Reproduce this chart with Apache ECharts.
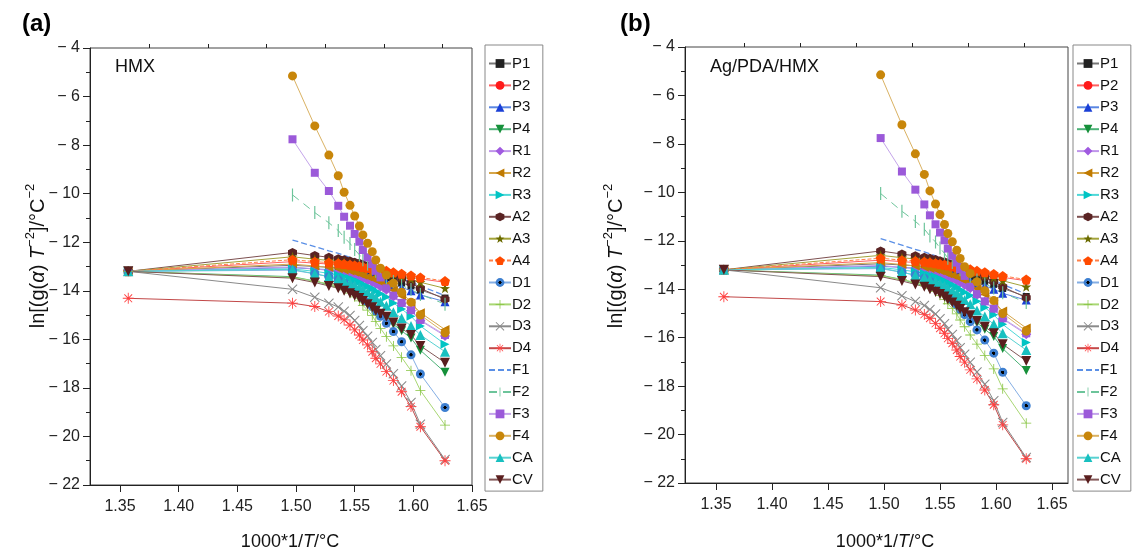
<!DOCTYPE html>
<html>
<head>
<meta charset="utf-8">
<script src="https://cdn.jsdelivr.net/npm/echarts@6.0.0/dist/echarts.min.js"></script>
<style>
html, body {margin: 0; padding: 0; background: #fff;}
#chart {width: 1135px; height: 554px;}
</style>
</head>
<body>
<div id="chart"></div>
<script>
// 1000*1/T, shared by every kinetic model
var xValues = [1.357, 1.497, 1.516, 1.528, 1.536, 1.541, 1.546, 1.550, 1.554, 1.557, 1.561, 1.565, 1.568, 1.572, 1.577, 1.583, 1.590, 1.598, 1.606, 1.627];

// ln[g(a)/T^2] for each model
var P1 = [-13.2, -12.95, -13.0, -13.03, -13.06, -13.09, -13.12, -13.15, -13.18, -13.22, -13.26, -13.3, -13.35, -13.4, -13.47, -13.56, -13.67, -13.8, -13.97, -14.3];
var P2 = [-13.2, -12.8, -12.86, -12.9, -12.93, -12.96, -12.99, -13.02, -13.05, -13.08, -13.11, -13.14, -13.17, -13.21, -13.25, -13.3, -13.36, -13.43, -13.51, -13.65];
var P3 = [-13.2, -13.05, -13.1, -13.13, -13.16, -13.2, -13.24, -13.28, -13.32, -13.36, -13.41, -13.46, -13.52, -13.58, -13.65, -13.75, -13.86, -14.0, -14.17, -14.45];
var P4 = [-13.2, -13.42, -13.6, -13.75, -13.86, -13.96, -14.06, -14.17, -14.28, -14.4, -14.53, -14.67, -14.82, -14.97, -15.12, -15.38, -15.65, -15.95, -16.45, -17.36];
var R1 = [-13.2, -13.02, -13.1, -13.16, -13.22, -13.28, -13.34, -13.4, -13.46, -13.52, -13.58, -13.65, -13.72, -13.83, -13.96, -14.24, -14.52, -14.82, -15.23, -15.86];
var R2 = [-13.2, -12.9, -12.98, -13.04, -13.09, -13.14, -13.19, -13.24, -13.3, -13.36, -13.42, -13.49, -13.56, -13.65, -13.76, -13.98, -14.22, -14.5, -14.9, -15.6];
var R3 = [-13.2, -13.1, -13.2, -13.28, -13.35, -13.42, -13.49, -13.57, -13.65, -13.73, -13.82, -13.91, -14.01, -14.12, -14.26, -14.5, -14.75, -15.05, -15.45, -16.2];
var A2 = [-13.2, -12.42, -12.55, -12.62, -12.68, -12.72, -12.77, -12.82, -12.87, -12.92, -12.97, -13.03, -13.09, -13.15, -13.23, -13.35, -13.5, -13.68, -13.9, -14.35];
var A3 = [-13.2, -12.6, -12.7, -12.75, -12.79, -12.83, -12.87, -12.91, -12.95, -12.99, -13.03, -13.07, -13.11, -13.16, -13.22, -13.3, -13.4, -13.52, -13.65, -13.9];
var A4 = [-13.2, -12.72, -12.8, -12.84, -12.87, -12.9, -12.93, -12.96, -12.99, -13.02, -13.05, -13.08, -13.11, -13.14, -13.18, -13.24, -13.3, -13.37, -13.45, -13.6];
var D1 = [-13.2, -13.15, -13.3, -13.42, -13.55, -13.68, -13.82, -13.97, -14.13, -14.3, -14.47, -14.65, -14.85, -15.05, -15.34, -15.68, -16.1, -16.64, -17.43, -18.81];
var D2 = [-13.2, -13.45, -13.6, -13.72, -13.84, -13.96, -14.1, -14.25, -14.42, -14.6, -14.8, -15.02, -15.27, -15.55, -15.89, -16.27, -16.74, -17.29, -18.11, -19.53];
var D3 = [-13.2, -13.94, -14.27, -14.51, -14.67, -14.84, -15.02, -15.22, -15.43, -15.65, -15.87, -16.13, -16.42, -16.68, -17.02, -17.42, -17.92, -18.6, -19.5, -20.95];
var D4 = [-14.31, -14.51, -14.65, -14.86, -15.04, -15.2, -15.41, -15.61, -15.82, -16.03, -16.23, -16.51, -16.78, -17.01, -17.33, -17.7, -18.16, -18.77, -19.6, -21.0];
var F1 = [null, -11.91, -12.18, -12.36, -12.46, -12.54, -12.62, -12.7, -12.78, -12.86, -12.94, -13.02, -13.1, -13.18, -13.27, -13.38, -13.5, -13.64, -13.8, -14.2];
var F2 = [null, -10.05, -10.78, -11.2, -11.52, -11.8, -12.05, -12.3, -12.52, -12.72, -12.9, -13.06, -13.2, -13.33, -13.47, -13.62, -13.78, -13.95, -14.15, -14.55];
var F3 = [null, -7.76, -9.14, -9.89, -10.5, -10.95, -11.32, -11.66, -11.98, -12.32, -12.62, -12.9, -13.18, -13.45, -13.9, -14.2, -14.5, -14.8, -15.2, -15.82];
var F4 = [null, -5.15, -7.21, -8.41, -9.26, -9.94, -10.48, -10.92, -11.33, -11.7, -12.04, -12.39, -12.73, -13.07, -13.35, -13.69, -14.06, -14.47, -15.0, -15.73];
var CA = [-13.2, -13.12, -13.3, -13.42, -13.52, -13.6, -13.68, -13.77, -13.86, -13.96, -14.06, -14.17, -14.3, -14.45, -14.62, -14.88, -15.13, -15.45, -15.82, -16.51];
var CV = [-13.2, -13.48, -13.66, -13.8, -13.9, -14.0, -14.1, -14.2, -14.3, -14.42, -14.55, -14.68, -14.82, -14.95, -15.07, -15.31, -15.55, -15.82, -16.27, -16.96];

var modelNames = ['P1', 'P2', 'P3', 'P4', 'R1', 'R2', 'R3', 'A2', 'A3', 'A4', 'D1', 'D2', 'D3', 'D4', 'F1', 'F2', 'F3', 'F4', 'CA', 'CV'];
var modelValues = [P1, P2, P3, P4, R1, R2, R3, A2, A3, A4, D1, D2, D3, D4, F1, F2, F3, F4, CA, CV];

var xMajorTicks = [1.35, 1.40, 1.45, 1.50, 1.55, 1.60, 1.65];
var xMinorTicks = [1.375, 1.425, 1.475, 1.525, 1.575, 1.625];
var panelTags = ['(a)', '(b)'];
var sampleNames = ['HMX', 'Ag/PDA/HMX'];

var FONT = '"Liberation Sans", Arial, sans-serif';

// marker shapes (Origin style)
var HEX = 'path://M0,-10L8.66,-5L8.66,5L0,10L-8.66,5L-8.66,-5Z';
var PENT = 'path://M0,-10L9.51,-3.09L5.88,8.09L-5.88,8.09L-9.51,-3.09Z';
var STAR = 'path://M0,-10L2.35,-3.24L9.51,-3.09L3.8,1.24L5.88,8.09L0,4L-5.88,8.09L-3.8,1.24L-9.51,-3.09L-2.35,-3.24Z';
var H_BAR = 'M-10,-0.8L10,-0.8L10,0.8L-10,0.8Z';
var V_BAR = 'M-0.8,-10L0.8,-10L0.8,10L-0.8,10Z';
var D_BAR1 = 'M-6.5,-7.64L7.64,6.5L6.5,7.64L-7.64,-6.5Z';
var D_BAR2 = 'M6.5,-7.64L7.64,-6.5L-6.5,7.64L-7.64,6.5Z';
var PLUS = 'path://' + H_BAR + V_BAR;
var CROSS = 'path://' + D_BAR1 + D_BAR2;
var ASTER = 'path://' + H_BAR + V_BAR + D_BAR1 + D_BAR2;
// thin vertical dash; the flat second piece only widens the box
var TICK = 'path://M-0.9,-10L0.9,-10L0.9,10L-0.9,10Z M-10,0L10,0L-10,0Z';

var sphere = {
    type: 'radial', x: 0.5, y: 0.5, r: 0.5,
    colorStops: [{offset: 0, color: '#000'}, {offset: 0.32, color: '#000'}, {offset: 0.4, color: '#3d7fd0'}, {offset: 1, color: '#3d7fd0'}]
};

var looks = {
    P1: {symbol: 'rect', size: 7, color: '#222', line: '#777'},
    P2: {symbol: 'circle', size: 8, color: '#ff1a1a', line: '#ff6060'},
    P3: {symbol: 'triangle', size: 9, color: '#1a3fd6', line: '#5a86e2'},
    P4: {symbol: 'triangle', size: 9, rotate: 180, color: '#16903a', line: '#4cb277'},
    R1: {symbol: 'diamond', size: 10, color: '#a05ae0', line: '#bf95ea'},
    R2: {symbol: 'triangle', size: 9, rotate: 90, color: '#c07a00', line: '#d6a64a'},
    R3: {symbol: 'triangle', size: 9, rotate: -90, color: '#00c4c4', line: '#4ed8d8'},
    A2: {symbol: HEX, size: 9, color: '#5a2323', line: '#7d5050'},
    A3: {symbol: STAR, size: 10, color: '#6b6b00', line: '#a3a33a'},
    A4: {symbol: PENT, size: 10, color: '#ff4a00', line: '#ff8048', dash: [4, 2]},
    D1: {symbol: 'circle', size: 9, color: sphere, line: '#84aee4'},
    D2: {symbol: PLUS, size: 10, color: '#86c440', line: '#a9d774'},
    D3: {symbol: CROSS, size: 10, color: '#8a8a8a', line: '#8a8a8a'},
    D4: {symbol: ASTER, size: 11, color: '#ff4040', line: '#c24848'},
    F1: {symbol: 'none', size: 0, color: '#5a8fe6', line: '#5a8fe6', dash: [6, 3], width: 1.3},
    F2: {symbol: TICK, size: 13, color: '#6cc49a', line: '#6cc49a', dash: [8, 6]},
    F3: {symbol: 'rect', size: 8, color: '#9b59d9', line: '#c4a4ea'},
    F4: {symbol: 'circle', size: 9, color: '#c8860a', line: '#dab263'},
    CA: {symbol: 'triangle', size: 10, color: '#18c0c0', line: '#58d2d2'},
    CV: {symbol: 'triangle', size: 10, rotate: 180, color: '#5a1e1e', line: '#835858'}
};

var panels = [
    {left: 90, top: 48, width: 382, height: 437, xMin: 1.3244, xMax: 1.65, legendLeft: 485, tagX: 22, titleX: 36, xTitleX: 290},
    {left: 685, top: 47, width: 383, height: 436, xMin: 1.3223, xMax: 1.6643, legendLeft: 1073, tagX: 620, titleX: 614, xTitleX: 885}
];

// legend entries: F1 shows only its dashed line
var legendData = modelNames.map(function (name) {
    return name === 'F1' ? {name: name, itemStyle: {opacity: 0}} : {name: name};
});

var grids = [], xAxes = [], yAxes = [], legends = [], series = [], graphics = [];

panels.forEach(function (p, k) {
    grids.push({left: p.left, top: p.top, width: p.width, height: p.height, show: true,
        borderColor: '#444', borderWidth: 1, backgroundColor: 'transparent'});

    // major ticks + labels
    xAxes.push({
        type: 'value', gridIndex: k, min: p.xMin, max: p.xMax,
        splitLine: {show: false},
        axisLine: {show: true, onZero: false, lineStyle: {color: '#222', width: 1}},
        axisTick: {show: true, length: 7, customValues: xMajorTicks, lineStyle: {color: '#222'}},
        axisLabel: {customValues: xMajorTicks, margin: 14, color: '#222', fontSize: 16, fontFamily: FONT,
            formatter: function (v) { return v.toFixed(2); }}
    });
    // minor ticks only
    xAxes.push({
        type: 'value', gridIndex: k, min: p.xMin, max: p.xMax,
        splitLine: {show: false},
        axisLine: {show: false},
        axisTick: {show: true, length: 4, customValues: xMinorTicks, lineStyle: {color: '#222'}},
        axisLabel: {show: false}
    });
    yAxes.push({
        type: 'value', gridIndex: k, min: -22, max: -4, interval: 2,
        splitLine: {show: false},
        axisLine: {show: true, onZero: false, lineStyle: {color: '#222', width: 1}},
        axisTick: {show: true, length: 7, lineStyle: {color: '#222'}},
        minorTick: {show: true, splitNumber: 2, length: 4, lineStyle: {color: '#222'}},
        axisLabel: {margin: 10, color: '#222', fontSize: 16, fontFamily: FONT,
            formatter: function (v) { return '\u2212 ' + Math.abs(v); }}
    });

    legends.push({
        data: legendData, orient: 'vertical', left: p.legendLeft, top: 45,
        itemWidth: 22, itemHeight: 11, itemGap: 6.9,
        padding: [11, 10, 4, 3],
        borderColor: '#888', borderWidth: 1, borderRadius: 0,
        selectedMode: false,
        textStyle: {color: '#111', fontSize: 15, fontFamily: FONT, lineHeight: 14.5, padding: [0, 0, 0, -4]}
    });

    modelNames.forEach(function (name, i) {
        var lk = looks[name];
        var pts = [];
        xValues.forEach(function (x, j) {
            if (modelValues[i][j] !== null) pts.push([x, modelValues[i][j]]);
        });
        series.push({
            name: name, type: 'line', xAxisIndex: k * 2, yAxisIndex: k,
            data: pts, symbol: lk.symbol, symbolSize: lk.size, symbolRotate: lk.rotate || 0,
            showSymbol: lk.symbol !== 'none',
            itemStyle: {color: lk.color, borderWidth: 0},
            lineStyle: {color: lk.line, width: lk.width || 1, type: lk.dash || 'solid'},
            emphasis: {disabled: true},
            animation: false
        });
    });

    graphics.push({type: 'text', left: p.tagX, top: 12,
        style: {text: panelTags[k], font: 'bold 24px ' + FONT, fill: '#000'}});
    graphics.push({type: 'text', x: p.left + 25, y: 67,
        style: {text: sampleNames[k], font: '18px ' + FONT, fill: '#111', verticalAlign: 'middle'}});
    graphics.push({type: 'text', x: p.titleX, y: 256, rotation: Math.PI / 2,
        style: {
            text: '{n|ln[(g(}{i|α}{n|) }{i|T}{s|−2}{n|]/°C}{s|−2}',
            align: 'center', verticalAlign: 'middle',
            rich: {
                n: {fontSize: 20, fontFamily: FONT, fill: '#111', lineHeight: 25, verticalAlign: 'bottom'},
                i: {fontSize: 20, fontFamily: FONT, fontStyle: 'italic', fill: '#111', lineHeight: 25, verticalAlign: 'bottom'},
                s: {fontSize: 13, fontFamily: FONT, fill: '#111', lineHeight: 25, verticalAlign: 'top'}
            }
        }});
    graphics.push({type: 'text', x: p.xTitleX, y: 542,
        style: {
            text: '{n|1000*1/}{i|T}{n|/°C}',
            align: 'center', verticalAlign: 'middle',
            rich: {
                n: {fontSize: 18, fontFamily: FONT, fill: '#111'},
                i: {fontSize: 18, fontFamily: FONT, fontStyle: 'italic', fill: '#111'}
            }
        }});
});

var chart = echarts.init(document.getElementById('chart'), null, {renderer: 'canvas'});
chart.setOption({
    animation: false,
    backgroundColor: '#fff',
    grid: grids,
    xAxis: xAxes,
    yAxis: yAxes,
    legend: legends,
    series: series,
    graphic: graphics
});
</script>
</body>
</html>
